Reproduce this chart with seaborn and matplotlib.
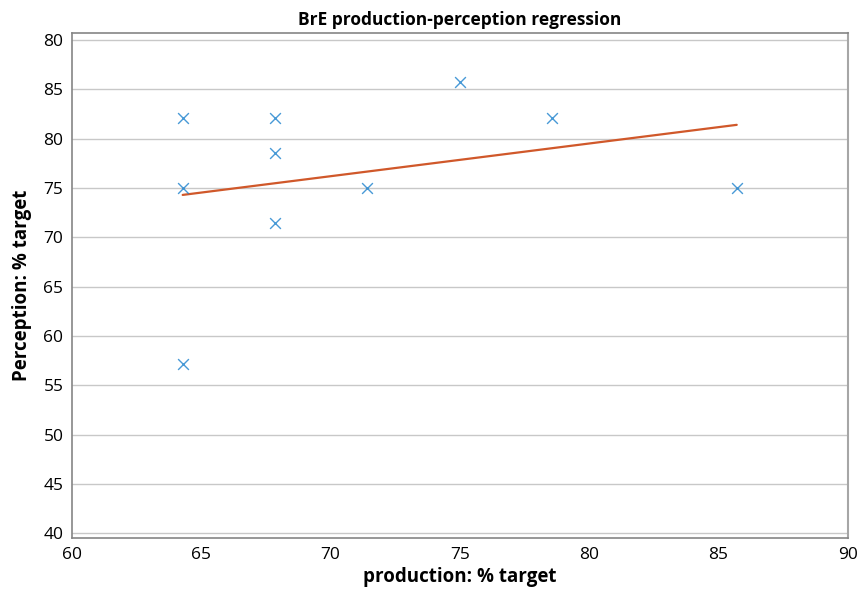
import matplotlib
matplotlib.use("Agg")
import matplotlib.pyplot as plt
import seaborn as sns
import numpy as np
import pandas as pd

production = [64.29, 64.29, 64.29, 67.86, 67.86, 67.86, 71.43, 75.0, 78.57, 85.71]
perception = [82.14, 75.0, 57.14, 82.14, 78.57, 71.43, 75.0, 85.71, 82.14, 75.0]
x_ticks = [60, 65, 70, 75, 80, 85, 90]
y_ticks = [40, 45, 50, 55, 60, 65, 70, 75, 80, 85, 90]
y_tick_labels = ["40", "45", "50", "55", "60", "65", "70", "75", "80", "85", "80"]

sns.set_style("white")
plt.rcParams['font.family'] = ['Open Sans', 'DejaVu Sans']
plt.rcParams['text.color'] = 'black'
plt.rcParams['axes.labelcolor'] = 'black'
plt.rcParams['xtick.color'] = 'black'
plt.rcParams['ytick.color'] = 'black'

df = pd.DataFrame({"production": production, "perception": perception})

fig = plt.figure(figsize=(8.62, 5.9), dpi=100)
ax = fig.add_axes([0.0832, 0.0876, 0.9002, 0.856])

sns.regplot(data=df, x="production", y="perception", ax=ax, ci=None,
            marker="x",
            scatter_kws=dict(color="#1a80cc", s=60, linewidths=1.0, zorder=3),
            line_kws=dict(color="#d0582a", linewidth=1.6, zorder=2))

ax.set_xlim(60, 90)
ax.set_ylim(39.49, 90.68)
ax.set_xticks(x_ticks)
ax.set_xticklabels([str(t) for t in x_ticks])
ax.set_yticks(y_ticks)
ax.set_yticklabels(y_tick_labels)
ax.yaxis.grid(True, color="#c8c8c8", linewidth=1.0)
ax.set_axisbelow(True)
ax.tick_params(axis="both", length=0, labelsize=12.5, pad=6)

for s in ["left", "bottom", "top"]:
    ax.spines[s].set_color("#858585")
    ax.spines[s].set_linewidth(1.2)
ax.spines["right"].set_color("#a6a6a6")
ax.spines["right"].set_linewidth(1.5)

ax.set_xlabel("production: % target", fontsize=13.5, fontweight="bold", labelpad=3)
ax.set_ylabel("Perception: % target", fontsize=13.5, fontweight="bold", labelpad=8)
ax.set_title("BrE production-perception regression", fontsize=12.5, fontweight="bold", pad=6)

fig.savefig("out.png", dpi=100)
